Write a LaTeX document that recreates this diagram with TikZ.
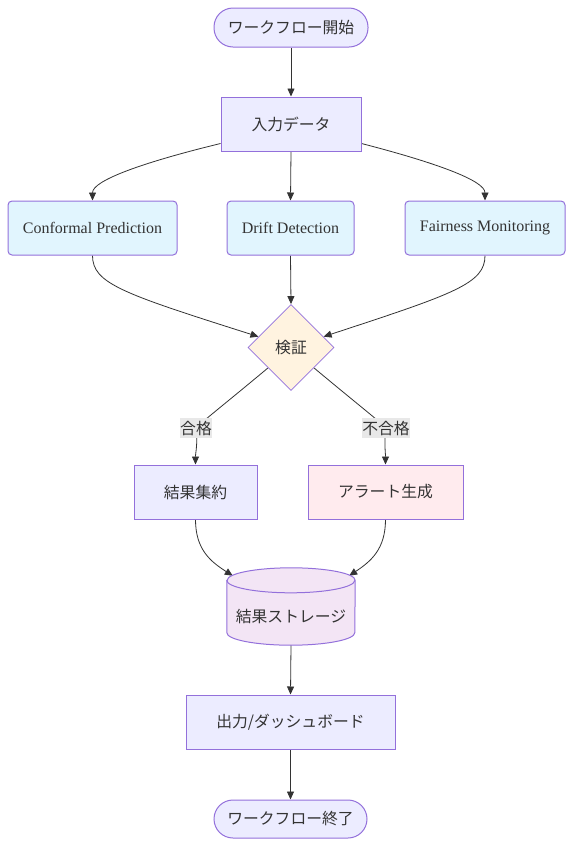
\documentclass[tikz,border=0pt]{standalone}
\usepackage{fontspec}
\setmainfont{Liberation Serif}
\newfontfamily\jp{Noto Sans CJK JP}
\usetikzlibrary{shapes.geometric,arrows.meta,calc,backgrounds}
\definecolor{pfill}{HTML}{ECECFF}
\definecolor{pstroke}{HTML}{9370DB}
\definecolor{bfill}{HTML}{E1F5FE}
\definecolor{ofill}{HTML}{FFF3E0}
\definecolor{rfill}{HTML}{FFEBEE}
\definecolor{cfill}{HTML}{F3E5F5}
\definecolor{edgec}{HTML}{333333}
\definecolor{lblbg}{HTML}{E8E8E8}
\begin{document}
\begin{tikzpicture}[x=1pt,y=-1pt,
  jpf/.style={font=\jp\fontsize{15.8}{18}\selectfont, text=edgec},
  term/.style={jpf, draw=pstroke, fill=pfill, line width=1pt, rounded corners=19pt, minimum height=39pt, inner sep=0pt},
  proc/.style={jpf, draw=pstroke, fill=pfill, line width=1pt, minimum height=54pt, inner sep=0pt},
  bluebox/.style={draw=pstroke, fill=bfill, line width=1pt, rounded corners=4pt, minimum height=54pt, inner sep=0pt, font=\fontsize{16}{18}\selectfont, text=edgec},
  decision/.style={jpf, draw=pstroke, fill=ofill, line width=0.8pt, diamond, aspect=1, minimum width=86pt, minimum height=86pt, inner sep=0pt},
  cyl/.style={draw=pstroke, fill=cfill, line width=1pt},
  lbl/.style={jpf, fill=lblbg, inner xsep=0.5pt, inner ysep=2.5pt},
  arr/.style={draw=edgec, line width=0.8pt, -{Triangle[length=8pt,width=7pt]}}
]
\useasboundingbox (0,0) rectangle (573,847);

\node[term, minimum width=154pt] (start) at (291,27.5) {ワークフロー開始};
\node[proc, minimum width=140pt] (in) at (291,124) {入力データ};
\node[bluebox, minimum width=169pt] (cp) at (92.5,228) {Conformal Prediction};
\node[bluebox, minimum width=127pt] (dd) at (290.5,228) {Drift Detection};
\node[bluebox, minimum width=160pt] (fm) at (485,228) {Fairness Monitoring};
\node[decision] (d) at (291,347.5) {検証};
\node[lbl] (l1) at (196,428) {合格};
\node[lbl] (l2) at (386,428) {不合格};
\node[proc, minimum width=123pt] (rs) at (195.5,492) {結果集約};
\node[proc, fill=rfill, minimum width=155pt] (ag) at (385.5,492) {アラート生成};
\node[jpf, minimum width=128pt, minimum height=77pt, inner sep=0pt] (st) at (291,606.5) {};
\draw[cyl] ($(st.north west)+(0,12.5)$) -- ($(st.south west)+(0,-12.5)$)
  arc[start angle=180, end angle=360, x radius=64pt, y radius=12.5pt]
  -- ($(st.north east)+(0,12.5)$)
  arc[start angle=0, end angle=180, x radius=64pt, y radius=12.5pt] -- cycle;
\draw[cyl, fill=none] ($(st.north west)+(0,12.5)$) arc[start angle=180, end angle=360, x radius=64pt, y radius=12.5pt];
\node[jpf] (stl) at ($(st.center)+(0,10)$) {結果ストレージ};
\node[proc, minimum width=209pt] (out) at (290.5,722) {出力/ダッシュボード};
\node[term, minimum width=153pt, minimum height=38pt] (end) at (290.5,819) {ワークフロー終了};

\begin{scope}[on background layer]
\draw[arr] (start) -- (in);
\draw[arr] ($(in.south west)+(0,-8)$) .. controls ($(cp.north)+(50,-38)$) and ($(cp.north)+(0,-20)$) .. (cp.north);
\draw[arr] (in.south) -- (dd.north);
\draw[arr] ($(in.south east)+(0,-8)$) .. controls ($(fm.north)+(-50,-38)$) and ($(fm.north)+(0,-20)$) .. (fm.north);
\draw[arr] (cp.south) .. controls ($(cp.south)+(0,28)$) and ($(cp.south)+(30,38)$) .. ($(d.west)!0.25!(d.north)$);
\draw[arr] (dd.south) -- (d.north);
\draw[arr] (fm.south) .. controls ($(fm.south)+(0,28)$) and ($(fm.south)+(-30,38)$) .. ($(d.east)!0.25!(d.north)$);
\draw[arr] ($(d.west)!0.47!(d.south)$) .. controls ($(l1.center)+(30,-25)$) and ($(l1.center)+(8,-8)$) .. (l1.center) .. controls ($(l1.center)+(2,15)$) and ($(rs.north)+(0,-12)$) .. (rs.north);
\draw[arr] ($(d.east)!0.47!(d.south)$) .. controls ($(l2.center)+(-30,-25)$) and ($(l2.center)+(-8,-8)$) .. (l2.center) .. controls ($(l2.center)+(-2,15)$) and ($(ag.north)+(0,-12)$) .. (ag.north);
\draw[arr] (rs.south) .. controls ($(rs.south)+(0,30)$) and ($(rs.south)+(15,42)$) .. ($(st.north west)+(6,8)$);
\draw[arr] (ag.south) .. controls ($(ag.south)+(0,30)$) and ($(ag.south)+(-15,42)$) .. ($(st.north east)+(-6,8)$);
\draw[arr] (st.south) -- (out.north);
\draw[arr] (out) -- (end);
\end{scope}
\end{tikzpicture}
\end{document}
